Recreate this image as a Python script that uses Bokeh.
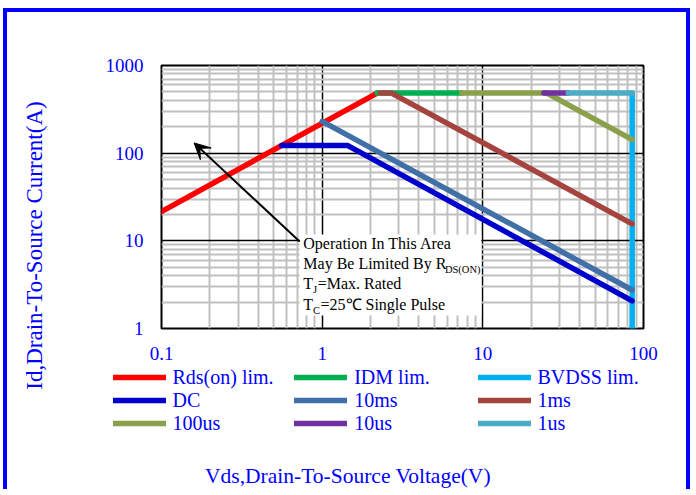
from bokeh.plotting import figure
from bokeh.models import FixedTicker, Legend, LegendItem, Label, BoxAnnotation, Arrow, VeeHead
from bokeh.embed import file_html
from bokeh.resources import INLINE

# ---- data (Vds in V, Id in A) ----
rds_v = [0.1, 2.2];            rds_i = [21.6, 485]
idm_v = [2.2, 7.4];            idm_i = [485, 485]
bvdss_v = [85, 85];            bvdss_i = [485, 1]
dc_v = [0.56, 1.445, 85];      dc_i = [122, 122, 2.07]
ms10_v = [1.0, 85];            ms10_i = [230, 2.75]
ms1_v = [2.3, 2.7, 85];        ms1_i = [485, 485, 15.6]
us100_v = [7.4, 25, 85];       us100_i = [485, 485, 143]
us10_v = [24, 34];             us10_i = [485, 485]
us1_v = [34, 85];              us1_i = [485, 485]

series_names = ["Rds(on) lim.", "IDM lim.", "BVDSS lim.", "DC", "10ms", "1ms", "100us", "10us", "1us"]
series_colors = ["#ff0000", "#00b050", "#00b0f0", "#0000cc", "#4170a8", "#a5443e", "#8aa04a", "#7030a0", "#4bacc6"]

x_ticks = [0.1, 1, 10, 100]
x_tick_labels = ["0.1", "1", "10", "100"]
y_ticks = [1, 10, 100, 1000]
y_tick_labels = ["1", "10", "100", "1000"]

x_minor = [d * k for d in x_ticks[:-1] for k in range(2, 10)]
y_minor = [d * k for d in y_ticks[:-1] for k in range(2, 10)]

x_title = "Vds,Drain-To-Source Voltage(V)"
y_title = "Id,Drain-To-Source Current(A)"

BLUE = "#0000ff"
SERIF = "Liberation Serif"
BORDER = "4px solid #0000ff"

xs = [rds_v, idm_v, bvdss_v, dc_v, ms10_v, ms1_v, us100_v, us10_v, us1_v]
ys = [rds_i, idm_i, bvdss_i, dc_i, ms10_i, ms1_i, us100_i, us10_i, us1_i]

def lab(fig, x, y, text, size="16px", color="black", **kw):
    fig.add_layout(Label(x=x, y=y, x_units="screen", y_units="screen", text=text,
                         text_font=SERIF, text_font_size=size, text_color=color,
                         text_baseline="middle", **kw))

def overlay(width, height, left, top):
    f = figure(width=width, height=height, x_range=(1000, 1000 + width), y_range=(1000, 1000 + height),
               output_backend="svg", toolbar_location=None,
               x_axis_location=None, y_axis_location=None, min_border=0)
    f.styles = {"position": "absolute", "left": f"{left}px", "top": f"{top}px"}
    f.outline_line_color = None
    f.background_fill_alpha = 0
    f.border_fill_alpha = 0
    f.grid.visible = False
    return f

# ---------------- main chart ----------------
p = figure(width=687, height=481, x_axis_type="log", y_axis_type="log",
           x_range=(0.1, 100), y_range=(1, 1000),
           output_backend="svg", toolbar_location=None,
           min_border_left=154, min_border_right=51, min_border_top=53, min_border_bottom=165)
p.styles = {"position": "absolute", "left": "3px", "top": "8px",
            "border-left": BORDER, "border-top": BORDER, "border-right": BORDER}

p.outline_line_color = "black"
p.outline_line_width = 2

xt = FixedTicker(ticks=x_ticks, minor_ticks=x_minor)
yt = FixedTicker(ticks=y_ticks, minor_ticks=y_minor)
p.xaxis.ticker = xt
p.yaxis.ticker = yt
p.xgrid.ticker = xt
p.ygrid.ticker = yt
p.xaxis.major_label_overrides = dict(zip(x_ticks, x_tick_labels))
p.yaxis.major_label_overrides = dict(zip(y_ticks, y_tick_labels))

for ax in (p.xaxis[0], p.yaxis[0]):
    ax.axis_line_color = None
    ax.major_tick_line_color = None
    ax.minor_tick_line_color = None
    ax.major_tick_out = 0
    ax.major_tick_in = 0
    ax.major_label_text_color = BLUE
    ax.major_label_text_font = SERIF
    ax.major_label_text_font_size = "19px"
    ax.major_label_standoff = 14

p.grid.grid_line_color = "black"
p.grid.grid_line_width = 1.5
p.grid.minor_grid_line_color = "#c0c0c0"
p.grid.minor_grid_line_width = 2

# white box behind the annotation text
p.add_layout(BoxAnnotation(left=0.724, right=9.79, top=11.8, bottom=1.41,
                           fill_color="white", fill_alpha=1.0, line_color=None, level="underlay"))

for xv, yv, c in zip(xs, ys, series_colors):
    p.line(xv, yv, line_color=c, line_width=5.5, line_cap="round", line_join="round")

# annotation arrow & text
p.add_layout(Arrow(end=VeeHead(size=16, fill_color="black", line_color="black"),
                   x_start=0.724, y_start=9.8, x_end=0.1595, y_end=131,
                   line_color="black", line_width=2))

lab(p, 141.8, 85.4, "Operation In This Area")
lab(p, 141.8, 65.0, "May Be Limited By R")
lab(p, 283.4, 59.2, "DS(ON)", size="10.5px")
lab(p, 141.8, 45.0, "T")
lab(p, 151.6, 39.5, "J", size="10.5px")
lab(p, 156.2, 45.0, "=Max. Rated")
lab(p, 141.8, 24.0, "T")
lab(p, 151.6, 18.5, "C", size="10.5px")
lab(p, 159.0, 24.0, "=25\u2103 Single Pulse")

# ---------------- legend + x title strip (transparent overlay) ----------------
HB = 129
b = overlay(679, HB, 7, 364)

# same series, used only as legend swatches (they lie outside this strip's view)
swatches = [b.line(xv, yv, line_color=c, line_width=5.5, line_cap="round")
            for xv, yv, c in zip(xs, ys, series_colors)]
col_x = [105.5, 287.2, 470.5]
for ci in range(3):
    items = [LegendItem(label=series_names[ri * 3 + ci], renderers=[swatches[ri * 3 + ci]]) for ri in range(3)]
    lg = Legend(items=items, location=(col_x[ci], 58.5), orientation="vertical",
                padding=0, margin=0, spacing=0, glyph_width=53, glyph_height=22,
                label_standoff=7, label_text_font=SERIF, label_text_font_size="20px",
                label_text_color=BLUE, border_line_alpha=0, background_fill_alpha=0)
    b.add_layout(lg)

lab(b, 340.5, 17.3, x_title, size="21.5px", color=BLUE, text_align="center")

# ---------------- y title strip (transparent overlay) ----------------
HC = 481
c = overlay(60, HC, 7, 12)
lab(c, 27, HC - 233, y_title, size="23px", color=BLUE, text_align="center", angle=1.5707963)

open("out.html", "w").write(file_html([p, b, c], INLINE))
